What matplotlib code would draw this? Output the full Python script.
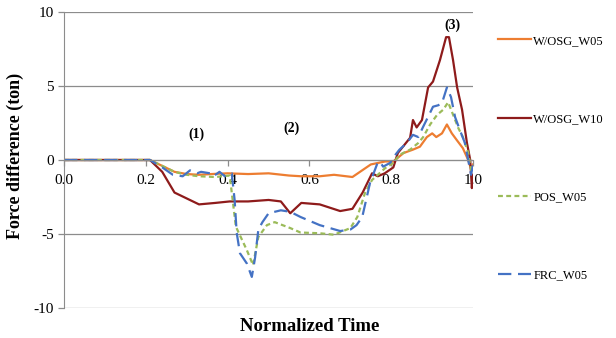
import matplotlib
matplotlib.use("Agg")
import matplotlib.pyplot as plt

plt.rcParams['font.family'] = ['Liberation Serif', 'DejaVu Serif']
plt.rcParams['axes.unicode_minus'] = False

# W/OSG_W05 (orange)
t_w05 = [0.0, 0.21, 0.24, 0.27, 0.30, 0.33, 0.36, 0.40, 0.45, 0.50, 0.55, 0.58,
         0.625, 0.66, 0.705, 0.75, 0.785, 0.805, 0.83, 0.853, 0.87, 0.887, 0.90,
         0.91, 0.924, 0.936, 0.948, 0.96, 0.975, 0.988, 0.995, 1.0]
f_w05 = [0.0, 0.0, -0.4, -0.8, -0.95, -1.0, -0.95, -0.9, -0.95, -0.9, -1.05, -1.1,
         -1.1, -1.0, -1.15, -0.3, -0.1, -0.1, 0.47, 0.7, 0.9, 1.55, 1.8,
         1.55, 1.8, 2.4, 1.8, 1.35, 0.8, 0.0, -0.6, -0.3]

# W/OSG_W10 (dark red)
t_w10 = [0.0, 0.21, 0.24, 0.27, 0.30, 0.33, 0.37, 0.405, 0.45, 0.50, 0.53, 0.553,
         0.58, 0.625, 0.675, 0.705, 0.73, 0.753, 0.767, 0.784, 0.805, 0.816, 0.846,
         0.853, 0.862, 0.875, 0.89, 0.902, 0.919, 0.934, 0.941, 0.951, 0.961,
         0.973, 0.985, 0.993, 0.997, 1.0]
f_w10 = [0.0, 0.0, -0.8, -2.2, -2.6, -3.0, -2.9, -2.8, -2.8, -2.7, -2.8, -3.6,
         -2.9, -3.0, -3.45, -3.3, -2.2, -0.9, -1.1, -0.9, -0.5, 0.47, 1.5,
         2.7, 2.2, 2.7, 4.9, 5.3, 6.75, 8.3, 8.3, 6.75, 4.9,
         3.4, 1.15, 0.0, -1.9, -1.0]

# POS_W05 (green)
t_pos = [0.0, 0.21, 0.24, 0.27, 0.30, 0.33, 0.37, 0.405, 0.42, 0.447, 0.462, 0.475,
         0.496, 0.515, 0.553, 0.578, 0.625, 0.66, 0.70, 0.717, 0.736, 0.753, 0.785,
         0.805, 0.82, 0.846, 0.866, 0.878, 0.895, 0.912, 0.927, 0.939, 0.949,
         0.964, 0.975, 0.988, 0.996, 1.0]
f_pos = [0.0, 0.0, -0.4, -0.8, -1.0, -1.1, -1.15, -1.05, -4.5, -6.1, -7.1, -5.2,
         -4.4, -4.2, -4.6, -4.9, -4.95, -5.05, -4.6, -3.85, -2.2, -1.35, -0.55,
         -0.2, 0.35, 0.7, 1.15, 1.55, 2.4, 3.05, 3.4, 3.9, 3.2,
         2.15, 1.55, 0.5, -0.8, -0.5]

# FRC_W05 (blue)
t_frc = [0.0, 0.21, 0.24, 0.266, 0.29, 0.308, 0.325, 0.335, 0.357, 0.365, 0.38,
         0.393, 0.41, 0.417, 0.422, 0.43, 0.447, 0.459, 0.467, 0.475, 0.485, 0.50,
         0.53, 0.553, 0.578, 0.625, 0.675, 0.70, 0.715, 0.729, 0.748, 0.765, 0.772,
         0.78, 0.797, 0.81, 0.82, 0.838, 0.853, 0.866, 0.878, 0.895, 0.902, 0.915,
         0.924, 0.936, 0.946, 0.956, 0.968, 0.98, 0.988, 0.995, 1.0]
f_frc = [0.0, 0.0, -0.5, -1.0, -1.1, -0.7, -0.9, -0.8, -0.9, -1.1, -0.8,
         -1.1, -0.9, -2.7, -4.9, -6.3, -7.0, -7.9, -6.6, -4.7, -4.2, -3.6,
         -3.4, -3.5, -3.85, -4.4, -4.8, -4.7, -4.4, -3.85, -1.55, -0.3, -0.1,
         -0.45, -0.2, 0.35, 0.7, 1.15, 1.7, 1.55, 2.25, 3.2, 3.6, 3.7,
         3.85, 4.9, 4.25, 2.9, 2.0, 1.15, 0.0, -1.0, -0.3]

x_ticks = [0.0, 0.2, 0.4, 0.6, 0.8, 1.0]
y_ticks = [-10, -5, 0, 5, 10]
notes = [("(1)", 0.324, 1.76), ("(2)", 0.557, 2.16), ("(3)", 0.949, 9.1)]

fig = plt.figure(figsize=(6.16, 3.38), dpi=100)
ax = fig.add_axes([0.104, 0.0888, 0.664, 0.8757])

ax.plot(t_w05, f_w05, color='#ED7D31', lw=1.6, label='W/OSG_W05')
ax.plot(t_w10, f_w10, color='#8E1B1B', lw=1.6, label='W/OSG_W10')
ax.plot(t_pos, f_pos, color='#9BBB59', lw=1.6, ls=(0, (2.2, 1.5)), label='POS_W05')
ax.plot(t_frc, f_frc, color='#4472C4', lw=1.6, ls=(0, (6, 3)), label='FRC_W05')

ax.set_xlim(0, 1.0)
ax.set_ylim(-10, 10)
ax.set_xticks(x_ticks)
ax.set_xticklabels([f"{v:.1f}" for v in x_ticks])
ax.set_yticks(y_ticks)
ax.grid(axis='y', color='#8c8c8c', lw=0.9)
ax.set_axisbelow(True)

for s in ['top', 'right']:
    ax.spines[s].set_visible(False)
ax.spines['bottom'].set_position(('data', 0))
ax.spines['bottom'].set_color('#8c8c8c')
ax.spines['left'].set_color('#8c8c8c')
ax.tick_params(axis='both', colors='#8c8c8c', labelcolor='black', labelsize=11,
               length=4, width=0.9)
ax.tick_params(axis='x', pad=6)

for txt, x, y in notes:
    ax.text(x, y, txt, ha='center', va='center', fontsize=10, fontweight='bold')

fig.text(0.025, 0.54, 'Force difference (ton)', rotation=90, ha='center',
         va='center', fontsize=13, fontweight='bold')
fig.text(0.503, 0.033, 'Normalized Time', ha='center', va='center',
         fontsize=13.5, fontweight='bold')

fig.legend(loc='upper left', bbox_to_anchor=(0.808, 0.897), frameon=False,
           fontsize=9, handlelength=2.7, handletextpad=0.15, labelspacing=5.3,
           borderaxespad=0, borderpad=0)

fig.savefig('out.png', dpi=100)
